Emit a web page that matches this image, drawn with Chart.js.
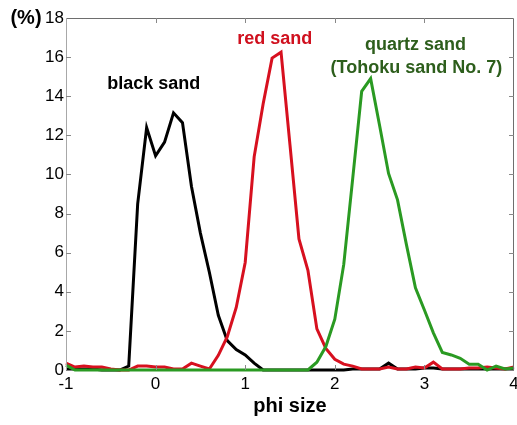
<!DOCTYPE html>
<html>
<head>
<meta charset="utf-8">
<script src="https://cdn.jsdelivr.net/npm/chart.js@4"></script>
<style>
  html, body { margin: 0; padding: 0; background: #fff; }
  #wrap { width: 517px; height: 425px; }
</style>
</head>
<body>
<div id="wrap"><canvas id="grainChart"></canvas></div>
<script>
// phi size classes (0.1 phi step)
const phi = [-1.0, -0.9, -0.8, -0.7, -0.6, -0.5, -0.4, -0.3, -0.2, -0.1,
    0.0, 0.1, 0.2, 0.3, 0.4, 0.5, 0.6, 0.7, 0.8, 0.9,
    1.0, 1.1, 1.2, 1.3, 1.4, 1.5, 1.6, 1.7, 1.8, 1.9,
    2.0, 2.1, 2.2, 2.3, 2.4, 2.5, 2.6, 2.7, 2.8, 2.9,
    3.0, 3.1, 3.2, 3.3, 3.4, 3.5, 3.6, 3.7, 3.8, 3.9, 4.0];

const blackSand = [0.05, 0.05, 0.05, 0.05, 0, 0, 0, 0.2, 8.5, 12.4,
    10.95, 11.65, 13.15, 12.65, 9.4, 7.0, 5.0, 2.8, 1.5, 1.05,
    0.77, 0.35, 0, 0, 0, 0, 0, 0, 0, 0,
    0, 0, 0.05, 0.05, 0.05, 0.05, 0.35, 0.05, 0.05, 0.05,
    0.1, 0.1, 0.05, 0.05, 0.05, 0.05, 0.05, 0.05, 0.05, 0.05, 0.05];

const redSand = [0.35, 0.15, 0.2, 0.15, 0.15, 0.05, 0, 0, 0.2, 0.2,
    0.15, 0.15, 0.05, 0.05, 0.35, 0.2, 0.05, 0.75, 1.7, 3.2,
    5.5, 10.9, 13.6, 15.95, 16.25, 11.5, 6.7, 5.1, 2.1, 1.1,
    0.55, 0.3, 0.2, 0.05, 0.05, 0.05, 0.15, 0.05, 0.05, 0.15,
    0.1, 0.4, 0.05, 0.05, 0.05, 0.1, 0.1, 0.15, 0.1, 0.05, 0.15];

const quartzSand = [0.25, 0, 0, 0, 0, 0, 0, 0, 0, 0,
    0, 0, 0, 0, 0, 0, 0, 0, 0, 0,
    0, 0, 0, 0, 0, 0, 0, 0, 0.4, 1.2,
    2.6, 5.4, 9.8, 14.25, 14.9, 12.5, 10.05, 8.7, 6.4, 4.2,
    3.07, 1.9, 0.9, 0.77, 0.6, 0.3, 0.3, 0, 0.2, 0.05, 0.1];

const xTicks = [-1, 0, 1, 2, 3, 4];
const yTicks = [0, 2, 4, 6, 8, 10, 12, 14, 16, 18];

// text labels placed in data coordinates
const notes = [
    { text: 'black sand', x: -0.02, y: 14.6, color: '#000000' },
    { text: 'red sand', x: 1.33, y: 16.9, color: '#d0101e' },
    { text: 'quartz sand', x: 2.9, y: 16.6, color: '#2d5e1c' },
    { text: '(Tohoku sand No. 7)', x: 2.91, y: 15.45, color: '#2d5e1c' }
];

function toPoints(values) {
    return values.map((v, i) => ({ x: phi[i], y: v }));
}

const framePlugin = {
    id: 'frame',
    afterDatasetsDraw(chart) {
        const ctx = chart.ctx;
        const a = chart.chartArea;
        const xs = chart.scales.x;
        const ys = chart.scales.y;
        ctx.save();
        ctx.lineWidth = 1;
        ctx.strokeStyle = '#6e6e6e';
        ctx.beginPath();
        ctx.moveTo(a.left + 0.5, a.top + 0.5);
        ctx.lineTo(a.right - 0.5, a.top + 0.5);
        ctx.lineTo(a.right - 0.5, a.bottom);
        ctx.stroke();
        ctx.strokeStyle = '#a8a8a8';
        ctx.beginPath();
        ctx.moveTo(a.left + 0.5, a.top);
        ctx.lineTo(a.left + 0.5, a.bottom);
        ctx.stroke();

        ctx.strokeStyle = '#888888';
        ctx.beginPath();
        xTicks.forEach(t => {
            if (t === xTicks[0] || t === xTicks[xTicks.length - 1]) return;
            const px = Math.round(xs.getPixelForValue(t)) + 0.5;
            ctx.moveTo(px, a.top);
            ctx.lineTo(px, a.top + 5);
            ctx.moveTo(px, a.bottom);
            ctx.lineTo(px, a.bottom - 5);
        });
        yTicks.forEach(t => {
            if (t === yTicks[0] || t === yTicks[yTicks.length - 1]) return;
            const py = Math.round(ys.getPixelForValue(t)) + 0.5;
            ctx.moveTo(a.left, py);
            ctx.lineTo(a.left + 5, py);
            ctx.moveTo(a.right, py);
            ctx.lineTo(a.right - 5, py);
        });
        ctx.stroke();

        ctx.font = 'bold 18px "Liberation Sans", Arial, sans-serif';
        ctx.textAlign = 'center';
        ctx.textBaseline = 'middle';
        notes.forEach(n => {
            ctx.fillStyle = n.color;
            ctx.fillText(n.text, xs.getPixelForValue(n.x), ys.getPixelForValue(n.y));
        });

        ctx.fillStyle = '#000';
        ctx.font = 'bold 20px "Liberation Sans", Arial, sans-serif';
        ctx.fillText('(%)', 26, 18);
        ctx.restore();
    }
};

const tickFont = { family: '"Liberation Sans", Arial, sans-serif', size: 17 };

new Chart(document.getElementById('grainChart'), {
    type: 'line',
    data: {
        datasets: [
            { label: 'quartz sand', data: toPoints(quartzSand), borderColor: '#2a9a22', order: 1 },
            { label: 'red sand', data: toPoints(redSand), borderColor: '#d7101f', order: 2 },
            { label: 'black sand', data: toPoints(blackSand), borderColor: '#000000', order: 3 }
        ]
    },
    options: {
        responsive: true,
        maintainAspectRatio: false,
        animation: false,
        clip: false,
        layout: { padding: { top: 18, right: 3, left: 0, bottom: 0 } },
        elements: {
            point: { radius: 0 },
            line: { borderWidth: 3, tension: 0, fill: false, borderJoinStyle: 'miter' }
        },
        plugins: {
            legend: { display: false },
            tooltip: { enabled: false }
        },
        scales: {
            x: {
                type: 'linear',
                min: -1,
                max: 4,
                afterFit: s => { s.height = 55; s.paddingLeft = 0; s.paddingRight = 0; },
                afterBuildTicks: s => { s.ticks = xTicks.map(v => ({ value: v })); },
                grid: { display: false, drawTicks: false },
                border: { display: false },
                ticks: { color: '#000', font: tickFont, padding: 4, maxRotation: 0 },
                title: {
                    display: true,
                    text: 'phi size',
                    color: '#000',
                    font: { family: '"Liberation Sans", Arial, sans-serif', size: 20, weight: 'bold' },
                    padding: { top: 0, bottom: 7 }
                }
            },
            y: {
                type: 'linear',
                min: 0,
                max: 18,
                afterFit: s => { s.width = 66; s.paddingTop = 0; s.paddingBottom = 0; },
                afterBuildTicks: s => { s.ticks = yTicks.map(v => ({ value: v })); },
                grid: { display: false, drawTicks: false },
                border: { display: false },
                ticks: { color: '#000', font: tickFont, padding: 2 }
            }
        }
    },
    plugins: [framePlugin]
});
</script>
</body>
</html>
